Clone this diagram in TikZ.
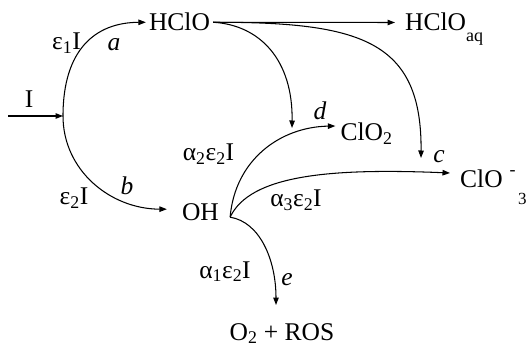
\documentclass[tikz,border=0pt]{standalone}
\usepackage{fontspec}
\setmainfont{Liberation Serif}
\usetikzlibrary{arrows.meta,calc}
\begin{document}
\begin{tikzpicture}[x=1pt,y=-1pt,
  chem/.style={inner xsep=3pt, inner ysep=0pt, font=\fontsize{25.5}{30}\selectfont},
  lbl/.style={inner sep=0pt, anchor=base, font=\fontsize{25.5}{30}\selectfont},
  itl/.style={inner sep=0pt, anchor=base, font=\fontsize{25.5}{30}\selectfont\itshape},
  arr/.style={-{Triangle[length=7.5pt,width=5.5pt]}, line width=1.05pt}]
\useasboundingbox (0,0) rectangle (532,347);
% species
\node[chem, anchor=base] (hclo) at (179.5,31) {HClO};
\node[chem, anchor=base west] (hcloaq) at (402,31) {HClO\raisebox{-11pt}{\fontsize{18}{18}\selectfont aq}};
\node[chem, anchor=base] (clo2) at (366.5,141) {ClO\textsubscript{2}};
\node[chem, anchor=base west] (clo3) at (457,188) {ClO\hspace{7pt}\raisebox{12pt}{\fontsize{18}{18}\selectfont -}\hspace{2.5pt}\raisebox{-17pt}{\fontsize{17}{17}\selectfont 3}};
\node[chem, anchor=base] (oh) at (200.5,221) {OH};
\node[chem, anchor=base] (ros) at (282,340) {O\textsubscript{2} + ROS};
% labels
\node[lbl] (lI) at (29,108) {I};
\node[lbl] (le1) at (66.5,50) {ε\textsubscript{1}I};
\node[itl] (la) at (114,51) {a};
\node[lbl] (le2) at (74,205) {ε\textsubscript{2}I};
\node[itl] (lb) at (127,195) {b};
\node[lbl] (la2) at (208.5,161) {α\textsubscript{2}ε\textsubscript{2}I};
\node[itl] (ld) at (320,120) {d};
\node[itl] (lc) at (439,163) {c};
\node[lbl] (la3) at (296,207) {α\textsubscript{3}ε\textsubscript{2}I};
\node[lbl] (la1) at (225,278) {α\textsubscript{1}ε\textsubscript{2}I};
\node[itl] (le) at (287,285) {e};
% connector ends
\coordinate (src) at (8,116);
\coordinate (J) at (63,116);
\coordinate (ohin) at ($(oh.west)+(-12,-3.5)$);
\coordinate (ohout) at ($(oh.east)+(8,4.5)$);
\coordinate (aqtip) at ($(hcloaq.base west)+(-7,-8.5)$);
\coordinate (dtip) at (292,128);
\coordinate (ctip) at (421,158);
\coordinate (clo2tip) at ($(clo2.base west)+(-2,-15)$);
\coordinate (clo3tip) at ($(clo3.base west)+(-7,-15)$);
\coordinate (rostip) at ($(ros.base)+(-6,-35)$);
% connectors
\draw[arr] (src) -- (J);
\draw[arr] (J) .. controls (63,50) and (95,22.5) .. (hclo.west);
\draw[arr] (J) .. controls (63,170) and (110,209) .. (ohin);
\draw[arr] (hclo.east) -- (aqtip);
\draw[arr] (hclo.east) .. controls (260,25) and (293,60) .. (dtip);
\draw[arr] (hclo.east) .. controls (360,22) and (422,40) .. (ctip);
\draw[arr] (ohout) .. controls (235,160) and (280,127) .. (clo2tip);
\draw[arr] (ohout) .. controls (250,175) and (330,168) .. (clo3tip);
\draw[arr] (ohout) .. controls (260,222) and (276,260) .. (rostip);
\end{tikzpicture}
\end{document}
